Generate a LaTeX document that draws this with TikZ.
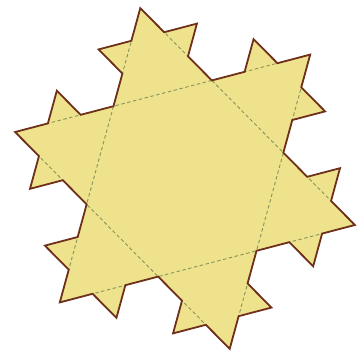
\documentclass[tikz,border=0pt]{standalone}
\usetikzlibrary{calc}
\definecolor{kochfill}{RGB}{238,226,140}
\definecolor{kochline}{RGB}{110,48,26}
\definecolor{guide}{RGB}{135,148,90}
\tikzset{
  outline/.style={draw=kochline, line width=1.8pt, line join=miter},
  shapefill/.style={fill=kochfill},
  guideline/.style={draw=guide, line width=0.9pt, dash pattern=on 3.5pt off 2.5pt},
}
\newcommand{\kochpath}{%
  (t1)
  \foreach \k [evaluate=\k as \da using 45.3+60*\k,
               evaluate=\k as \db using 45.3+60*\k-60] in {0,...,5} {
    -- ++(\da:\u) -- ++(\da-60:\u) -- ++(\da+60:\u) -- ++(\da:\u)
    -- ++(\db:\u) -- ++(\db-60:\u) -- ++(\db+60:\u) -- ++(\db:\u)
  } -- cycle}
\begin{document}
\begin{tikzpicture}[x=1pt,y=-1pt]
\useasboundingbox (0,0) rectangle (359,351);
\def\u{33.9}
\def\R{176.15}
\coordinate (c) at (185,178.5);
\path (c) ++(-104.7:\R) coordinate (t1);
\path (c) ++(-44.7:\R) coordinate (t4);
\path (c) ++(15.3:\R) coordinate (t7);
\path (c) ++(75.3:\R) coordinate (t10);
\path (c) ++(135.3:\R) coordinate (t13);
\path (c) ++(195.3:\R) coordinate (t16);
% Koch snowflake, second step: fill
\path[shapefill] \kochpath;
% the two big triangles
\draw[guideline] (t1) -- (t7) -- (t13) -- cycle;
\draw[guideline] (t4) -- (t10) -- (t16) -- cycle;
% outline on top
\path[outline] \kochpath;
\end{tikzpicture}
\end{document}
